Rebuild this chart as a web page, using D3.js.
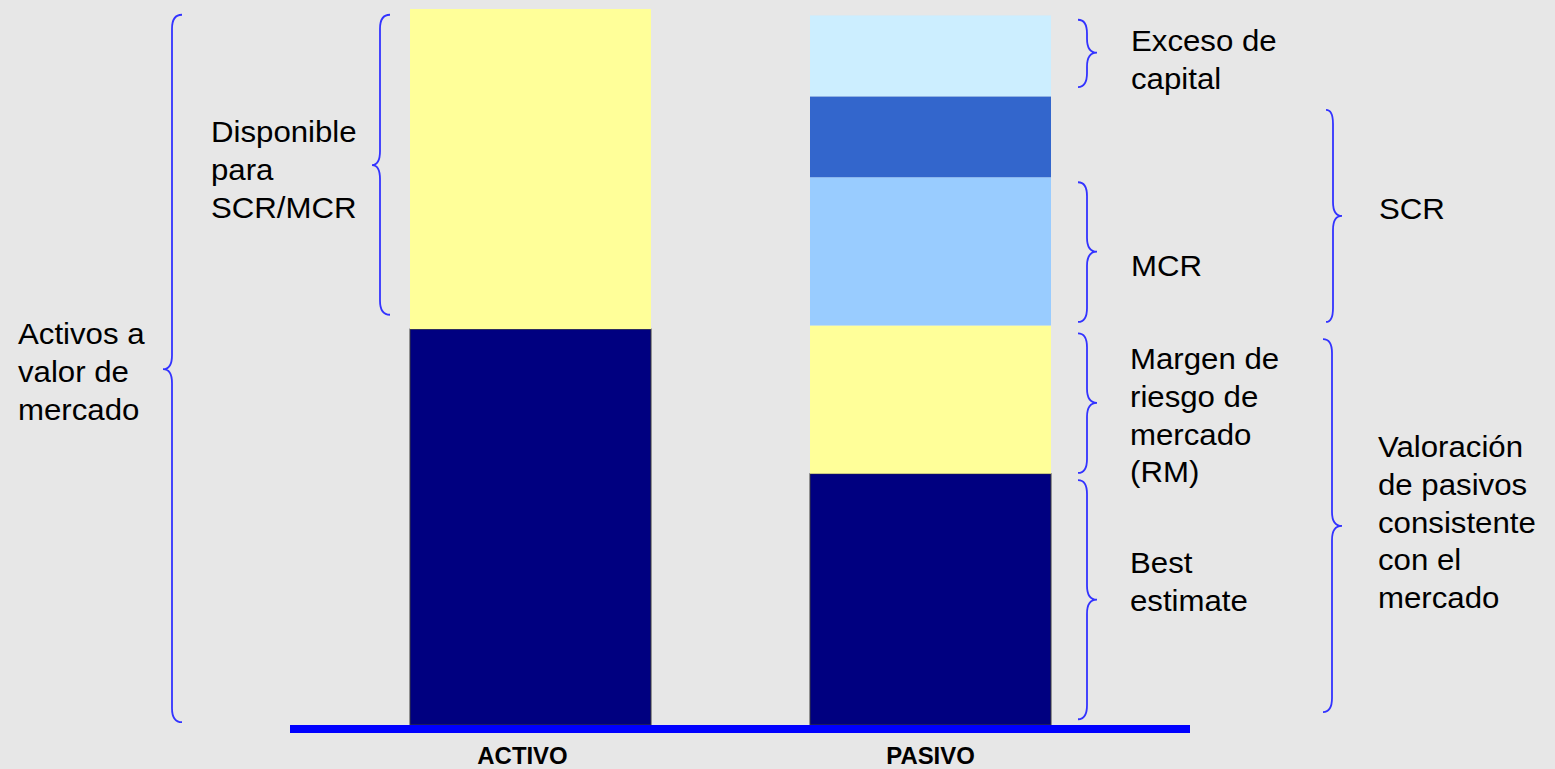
<!DOCTYPE html>
<html>
<head>
<meta charset="utf-8">
<script src="https://cdn.jsdelivr.net/npm/d3@7"></script>
<style>
  html, body { margin: 0; padding: 0; background: #e7e7e7; }
  svg { display: block; }
  text { font-family: "Liberation Sans", Arial, sans-serif; fill: #000; }
</style>
</head>
<body>
<svg id="chart" width="1555" height="769"></svg>
<script>
// ---- data ----
const categories = ["ACTIVO", "PASIVO"];
const activoSegments = ["Activos", "Disponible"];
const activoValues = [55.3, 44.7];
const pasivoSegments = ["Best estimate", "RM", "MCR", "SCR", "Exceso"];
const pasivoValues = [35.1, 20.7, 20.7, 11.3, 11.3];
const activoColors = ["#000080", "#ffff99"];
const pasivoColors = ["#000080", "#ffff99", "#99ccff", "#3366cc", "#cceeff"];

// braces: [label lines, low value, high value, tip value]
const braceLabels = [
  ["Activos a", "valor de", "mercado"],
  ["Disponible", "para", "SCR/MCR"],
  ["Exceso de", "capital"],
  ["MCR"],
  ["Margen de", "riesgo de", "mercado", "(RM)"],
  ["Best", "estimate"],
  ["SCR"],
  ["Valoración", "de pasivos", "consistente", "con el", "mercado"]
];
const braceLow  = [0.4, 57.3, 89.1, 56.3, 35.2, 0.8, 56.3, 1.8];
const braceHigh = [99.2, 99.2, 98.5, 75.8, 54.7, 34.2, 85.9, 53.9];
const braceTip  = [49.7, 78.2, 93.9, 66.1, 45.0, 17.5, 71.1, 27.8];

// ---- layout ----
const svg = d3.select("#chart");
const y = d3.scaleLinear().domain([0, 100]).range([725, 9]);
const x = d3.scaleBand().domain(categories).range([410, 1051]).paddingInner(0.3975).paddingOuter(0);

// bars
function stackSeg(vals) {
  let acc = 0;
  return vals.map(v => { const s = {y0: acc, y1: acc + v}; acc += v; return s; });
}
const series = [
  {cat: "ACTIVO", segs: stackSeg(activoValues), colors: activoColors},
  {cat: "PASIVO", segs: stackSeg(pasivoValues), colors: pasivoColors}
];
series.forEach(s => {
  svg.append("g").selectAll("rect").data(s.segs).join("rect")
    .attr("x", x(s.cat))
    .attr("width", x.bandwidth())
    .attr("y", d => y(d.y1))
    .attr("height", d => y(d.y0) - y(d.y1))
    .attr("fill", (d, i) => s.colors[i])
    .attr("stroke", (d, i) => i === 0 ? "#3a3a3a" : "none")
    .attr("stroke-width", 1);
});

// baseline axis
svg.append("rect")
  .attr("x", 290).attr("width", 900)
  .attr("y", y(0)).attr("height", 8)
  .attr("fill", "#0000ff");

// category labels
svg.append("g").selectAll("text").data(categories).join("text")
  .attr("transform", d => `translate(${x(d) + x.bandwidth() / 2 + (d === "ACTIVO" ? -8 : 0)},764) scale(1.04,1)`)
  .attr("text-anchor", "middle")
  .attr("font-weight", "bold")
  .attr("font-size", 23)
  .text(d => d);

// brace geometry (pixel layout): [xEnd, xV, xTip]
const braceX = [
  [182, 172, 163],
  [390, 380, 372],
  [1078, 1087, 1097],
  [1078, 1087, 1097],
  [1078, 1087, 1097],
  [1078, 1087, 1097],
  [1326, 1333, 1342],
  [1323, 1332, 1342]
];
const labelPos = [
  [18, 344], [211, 142], [1131, 51], [1131, 276],
  [1130, 369], [1130, 573], [1379, 219], [1378, 457]
];

function bracePath(xe, xv, xt, y1, y2, ym) {
  const r = Math.min(14, (y2 - y1) / 4);
  return `M${xe},${y1} Q${xv},${y1} ${xv},${y1 + r} L${xv},${ym - r} Q${xv},${ym} ${xt},${ym} ` +
         `Q${xv},${ym} ${xv},${ym + r} L${xv},${y2 - r} Q${xv},${y2} ${xe},${y2}`;
}

const braces = svg.append("g");
braceLabels.forEach((lines, i) => {
  const [xe, xv, xt] = braceX[i];
  braces.append("path")
    .attr("d", bracePath(xe, xv, xt, y(braceHigh[i]), y(braceLow[i]), y(braceTip[i])))
    .attr("fill", "none")
    .attr("stroke", "#3333ff")
    .attr("stroke-width", 1.8);
  const t = svg.append("text")
    .attr("transform", `translate(${labelPos[i][0]},${labelPos[i][1]}) scale(1.04,1)`)
    .attr("font-size", 30);
  lines.forEach((ln, j) => {
    t.append("tspan").attr("x", 0).attr("dy", j === 0 ? 0 : 37.8).text(ln);
  });
});
</script>
</body>
</html>
